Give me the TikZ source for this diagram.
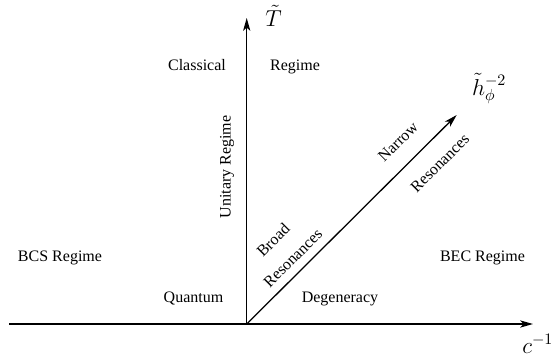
\documentclass[tikz,border=0pt]{standalone}
\usepackage{fontspec}
\setmainfont{Liberation Serif}
\usetikzlibrary{arrows.meta}
\begin{document}
\begin{tikzpicture}[x=0.625pt,y=-0.625pt,
  axis/.style={line width=0.8pt,-{Stealth[length=8pt,width=4.5pt,inset=2pt]}},
  lbl/.style={font=\fontsize{10}{12}\selectfont,inner sep=0pt},
  mlbl/.style={font=\Large,inner sep=0pt}]
\useasboundingbox (0,0) rectangle (555,356);
\coordinate (O) at (246.7,324);
\coordinate (L) at (9,324);
\coordinate (Xe) at (533,324);
\coordinate (Ye) at (246.7,18);
\coordinate (De) at (456.7,115);
\draw[axis] (L) -- (Xe);
\draw[axis] (O) -- (Ye);
\draw[axis] (O) -- (De);
\node[mlbl,anchor=base west] (T) at (265,26) {$\tilde{T}$};
\node[mlbl,anchor=base west] (c) at (522,353) {$c^{-1}$};
\node[mlbl,anchor=base west] (h) at (471.7,95) {$\tilde{h}_{\phi}^{-2}$};
\node[lbl,anchor=base] (cl) at (197,70) {Classical};
\node[lbl,anchor=base] (rg) at (295,70) {Regime};
\node[lbl,anchor=base] (bcs) at (60,261.5) {BCS Regime};
\node[lbl,anchor=base] (bec) at (482.5,261.5) {BEC Regime};
\node[lbl,anchor=base] (qu) at (193.5,302) {Quantum};
\node[lbl,anchor=base] (dg) at (340,302) {Degeneracy};
\node[lbl,rotate=90] (ur) at (227,167) {Unitary Regime};
\node[lbl,rotate=45] (br) at (273,240) {Broad};
\node[lbl,rotate=45] (res1) at (293,258) {Resonances};
\node[lbl,rotate=45] (nr) at (398,142) {Narrow};
\node[lbl,rotate=45] (res2) at (440,163) {Resonances};
\end{tikzpicture}
\end{document}
